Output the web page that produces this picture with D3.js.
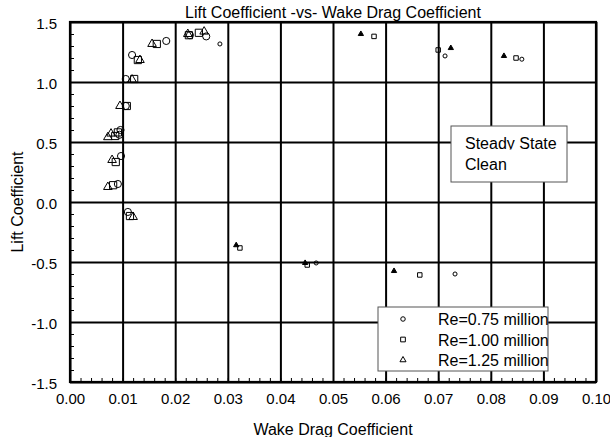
<!DOCTYPE html>
<html>
<head>
<meta charset="utf-8">
<script src="https://cdn.jsdelivr.net/npm/d3@7"></script>
<style>
  html, body { margin: 0; padding: 0; background: #fff; }
  svg { display: block; font-family: Arial, "Liberation Sans", sans-serif; }
</style>
</head>
<body>
<svg id="chart" width="610" height="437"></svg>
<script>
// Axis ticks and their printed labels
const xTickValues = [0, 0.01, 0.02, 0.03, 0.04, 0.05, 0.06, 0.07, 0.08, 0.09, 0.10];
const xTickLabels = ["0.00", "0.01", "0.02", "0.03", "0.04", "0.05", "0.06", "0.07", "0.08", "0.09", "0.10"];
const yTickValues = [-1.5, -1.0, -0.5, 0.0, 0.5, 1.0, 1.5];
const yTickLabels = ["-1.5", "-1.0", "-0.5", "0.0", "0.5", "1.0", "1.5"];

// [wake drag coefficient, lift coefficient] — attached-flow points
const re075Attached = [
  [0.0110, -0.083], [0.0091, 0.150], [0.0097, 0.383], [0.0094, 0.560], [0.0096, 0.600],
  [0.0106, 0.800], [0.0106, 1.025], [0.0118, 1.225], [0.0183, 1.342], [0.0228, 1.390],
  [0.0259, 1.380]
];
const re100Attached = [
  [0.0114, -0.117], [0.0082, 0.140], [0.0087, 0.333], [0.0086, 0.550], [0.0091, 0.580],
  [0.0108, 0.800], [0.0122, 1.025], [0.0129, 1.183], [0.0165, 1.317], [0.0226, 1.390],
  [0.0245, 1.410]
];
const re125Attached = [
  [0.0120, -0.125], [0.0072, 0.125], [0.0080, 0.350], [0.0072, 0.540], [0.0078, 0.570],
  [0.0095, 0.800], [0.0118, 1.020], [0.0133, 1.183], [0.0156, 1.317], [0.0224, 1.400],
  [0.0255, 1.420]
];

// [wake drag coefficient, lift coefficient] — stalled (separated-flow) points
const re075Stalled = [
  [0.0285, 1.317], [0.0468, -0.508], [0.0713, 1.217], [0.0732, -0.600], [0.0859, 1.190]
];
const re100Stalled = [
  [0.0323, -0.383], [0.0451, -0.525], [0.0578, 1.380], [0.0665, -0.608], [0.0700, 1.267],
  [0.0848, 1.200]
];
const re125Stalled = [
  [0.0316, -0.360], [0.0447, -0.508], [0.0553, 1.400], [0.0616, -0.575], [0.0724, 1.283],
  [0.0825, 1.217]
];

const seriesLabels = ["Re=0.75 million", "Re=1.00 million", "Re=1.25 million"];
const titleText = "Lift Coefficient -vs- Wake Drag Coefficient";
const xTitle = "Wake Drag Coefficient";
const yTitle = "Lift Coefficient";
const noteLines = ["Steady State", "Clean"];

// ---- layout ----
const svg = d3.select("#chart");
const plotLeft = 70, plotRight = 596, plotTop = 22, plotBottom = 382;
const fontSize = 16;
const tickFontSize = 15;

const x = d3.scaleLinear().domain([0, 0.10]).range([plotLeft, plotRight]);
const y = d3.scaleLinear().domain([-1.5, 1.5]).range([plotBottom, plotTop]);

const symbols = [d3.symbolCircle, d3.symbolSquare, d3.symbolTriangle];
const series = [
  { label: seriesLabels[0], symbol: symbols[0], attached: re075Attached, stalled: re075Stalled },
  { label: seriesLabels[1], symbol: symbols[1], attached: re100Attached, stalled: re100Stalled },
  { label: seriesLabels[2], symbol: symbols[2], attached: re125Attached, stalled: re125Stalled }
];
// marker areas (px^2) per symbol: large for attached points, small for stalled ones
const bigSize = [40, 52, 32];
const smallSize = [13, 20, 12];
const legendSize = [16, 22, 16];

// ---- grid lines and tick labels (major ticks) ----
const xAxis = d3.axisBottom(x)
  .tickValues(xTickValues)
  .tickSize(-(plotBottom - plotTop))
  .tickPadding(11)
  .tickFormat((d, i) => xTickLabels[i]);
const gx = svg.append("g")
  .attr("transform", `translate(0,${plotBottom})`)
  .call(xAxis)
  .attr("font-size", tickFontSize).attr("font-family", null);
gx.select(".domain").remove();
gx.selectAll(".tick line").attr("stroke", "#000").attr("stroke-width", 2);
gx.selectAll(".tick text").attr("fill", "#000");

const yAxis = d3.axisLeft(y)
  .tickValues(yTickValues)
  .tickSize(-(plotRight - plotLeft))
  .tickPadding(13)
  .tickFormat((d, i) => yTickLabels[i]);
const gy = svg.append("g")
  .attr("transform", `translate(${plotLeft},0)`)
  .call(yAxis)
  .attr("font-size", tickFontSize).attr("font-family", null);
gy.select(".domain").remove();
gy.selectAll(".tick line").attr("stroke", "#000").attr("stroke-width", 2);
gy.selectAll(".tick text").attr("fill", "#000").attr("dy", "0.42em");

// ---- minor ticks, pointing into the plot ----
const gxMinor = svg.append("g")
  .attr("transform", `translate(0,${plotBottom})`)
  .call(d3.axisBottom(x).ticks(50).tickSize(-4).tickFormat(""));
gxMinor.select(".domain").remove();
gxMinor.selectAll(".tick line").attr("stroke", "#000").attr("stroke-width", 1);

const gyMinor = svg.append("g")
  .attr("transform", `translate(${plotLeft},0)`)
  .call(d3.axisLeft(y).ticks(30).tickSize(-4).tickFormat(""));
gyMinor.select(".domain").remove();
gyMinor.selectAll(".tick line").attr("stroke", "#000").attr("stroke-width", 1);

// ---- plot frame ----
svg.append("rect")
  .attr("x", plotLeft).attr("y", plotTop)
  .attr("width", plotRight - plotLeft).attr("height", plotBottom - plotTop)
  .attr("fill", "none").attr("stroke", "#000").attr("stroke-width", 2.2);

// ---- data markers ----
const marks = svg.append("g");
series.forEach((s, k) => {
  marks.append("g").selectAll("path")
    .data(s.attached)
    .join("path")
    .attr("transform", d => `translate(${x(d[0])},${y(d[1])})`)
    .attr("d", d3.symbol(s.symbol, bigSize[k]))
    .attr("fill", "none").attr("stroke", "#000").attr("stroke-width", 1);
  marks.append("g").selectAll("path")
    .data(s.stalled)
    .join("path")
    .attr("transform", d => `translate(${x(d[0])},${y(d[1])})`)
    .attr("d", d3.symbol(s.symbol, smallSize[k]))
    .attr("fill", k === 2 ? "#000" : "none")
    .attr("stroke", "#000").attr("stroke-width", 1);
});

// ---- titles ----
svg.append("text")
  .attr("x", (plotLeft + plotRight) / 2).attr("y", 17.5)
  .attr("text-anchor", "middle").attr("font-size", fontSize)
  .text(titleText);
svg.append("text")
  .attr("x", (plotLeft + plotRight) / 2).attr("y", 434.5)
  .attr("text-anchor", "middle").attr("font-size", fontSize)
  .text(xTitle);
svg.append("text")
  .attr("transform", `translate(23,${(plotTop + plotBottom) / 2}) rotate(-90)`)
  .attr("text-anchor", "middle").attr("font-size", fontSize)
  .text(yTitle);

// ---- note box ----
const note = { x: 451, y: 126, w: 116, h: 56 };
svg.append("rect")
  .attr("x", note.x).attr("y", note.y).attr("width", note.w).attr("height", note.h)
  .attr("fill", "#fff").attr("stroke", "#555").attr("stroke-width", 1);
const defs = svg.append("defs");
// the first line sits in a frame whose lower edge trims the descenders
defs.append("clipPath").attr("id", "noteLine1")
  .append("rect").attr("x", note.x).attr("y", note.y).attr("width", note.w).attr("height", 23.6);
svg.append("text")
  .attr("x", note.x + 14).attr("y", note.y + 23)
  .attr("font-size", fontSize).attr("clip-path", "url(#noteLine1)")
  .text(noteLines[0]);
svg.append("text")
  .attr("x", note.x + 14).attr("y", note.y + 44)
  .attr("font-size", fontSize)
  .text(noteLines[1]);

// ---- legend ----
const lg = { x: 378, y: 307, w: 170, h: 64, row: 20.5 };
svg.append("rect")
  .attr("x", lg.x).attr("y", lg.y).attr("width", lg.w).attr("height", lg.h)
  .attr("fill", "#fff").attr("stroke", "#555").attr("stroke-width", 1);
defs.append("clipPath").attr("id", "legendClip")
  .append("rect").attr("x", lg.x).attr("y", lg.y).attr("width", lg.w).attr("height", lg.h);
const rows = svg.append("g").attr("clip-path", "url(#legendClip)")
  .selectAll("g").data(series).join("g")
  .attr("transform", (d, i) => `translate(${lg.x},${lg.y + 12 + i * lg.row})`);
rows.append("path")
  .attr("transform", "translate(25,0)")
  .attr("d", (d, i) => d3.symbol(d.symbol, legendSize[i])())
  .attr("fill", "none").attr("stroke", "#000").attr("stroke-width", 1);
rows.append("text")
  .attr("x", 60).attr("y", 6)
  .attr("font-size", fontSize)
  .text(d => d.label);
</script>
</body>
</html>
